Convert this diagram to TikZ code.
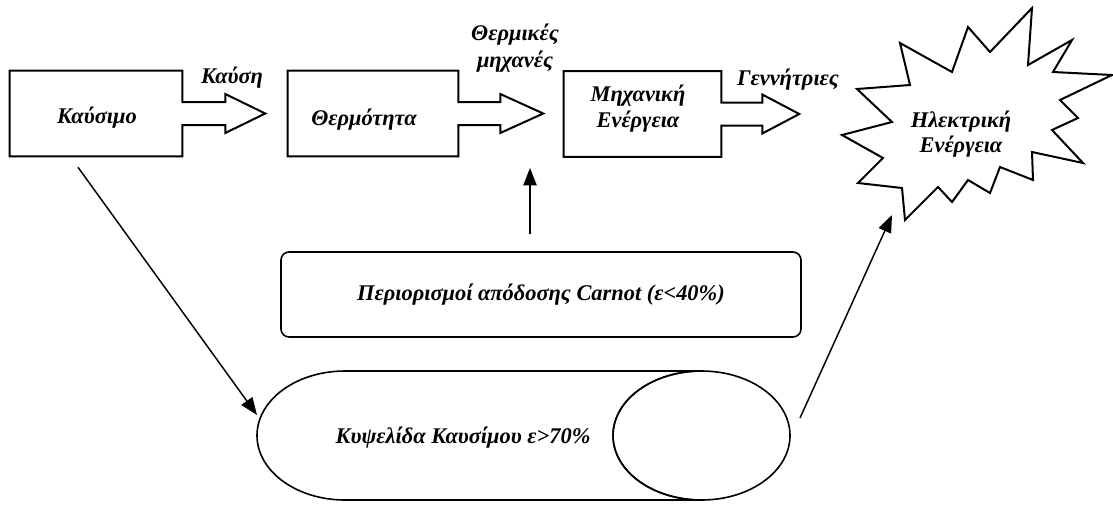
\documentclass[tikz,border=0pt]{standalone}
\usepackage{fontspec}
\setmainfont{Liberation Serif}
\usetikzlibrary{arrows.meta,calc}
\begin{document}
\begin{tikzpicture}[x=0.75pt,y=-0.75pt,
  lbl/.style={font=\fontsize{16.8}{19}\selectfont\bfseries\itshape, inner sep=0pt, align=center},
  outline/.style={draw=black, line width=1.5pt, line join=miter},
  conn/.style={draw=black, line width=1.1pt, -{Triangle[length=13pt,width=10pt]}},
  holder/.style={inner sep=0pt, minimum height=63.75pt}]
\useasboundingbox (0,0) rectangle (1113,508);
\fill[white] (0,0) rectangle (1113,508);

% box holders
\node[holder, minimum width=129pt] (b1) at (96,113.5) {};
\node[holder, minimum width=127.5pt] (b2) at (373,113.5) {};
\node[holder, minimum width=117.75pt] (b3) at (642.5,114) {};

\newcommand\boxarrow[3]{%
  \draw[outline] (#1.north west) -- (#1.north east) -- ($(#1.east)+(0,-11.5)$)
    -- ++(#2,0) -- ++(0,-8) -- ($(#1.east)+(#2+#3,0)$) -- ($(#1.east)+(#2,19.5)$)
    -- ++(0,-8) -- ($(#1.east)+(0,11.5)$) -- (#1.south east) -- (#1.south west) -- cycle;}
\boxarrow{b1}{43}{40}
\boxarrow{b2}{42}{43}
\boxarrow{b3}{41}{37}

% texts in boxes
\node[lbl] (fuel) at (97,118) {Καύσιμο};
\node[lbl] (heat) at (364,120) {Θερμότητα};
\node[lbl] (mech) at (638,108.5) {Μηχανική\\Ενέργεια};

% arrow labels
\node[lbl] (l1) at (232,78) {Καύση};
\node[lbl, font=\fontsize{16.8}{20.5}\selectfont\bfseries\itshape] (l2) at (515,48) {Θερμικές\\μηχανές};
\node[lbl] (l3) at (788,80) {Γεννήτριες};

% starburst
\draw[outline] (857,89) -- (910,85) -- (900,43) -- (952,72) -- (968,27) -- (990,52)
  -- (1032,8) -- (1028,65) -- (1072,40) -- (1053,72) -- (1112,75) -- (1060,100)
  -- (1078,118) -- (1052,130) -- (1083,163) -- (1032,152) -- (1033,180) -- (1000,167)
  -- (990,193) -- (968,180) -- (952,202) -- (938,187) -- (905,220) -- (902,188)
  -- (858,183) -- (883,158) -- (842,135) -- (892,122) -- cycle;
\node[lbl] (elec) at (961,134) {Ηλεκτρική\\Ενέργεια};

% Carnot box
\node[draw=black, line width=1.2pt, rounded corners=6pt, minimum width=390pt,
  minimum height=63.75pt, inner sep=0pt, lbl] (carnot) at (541,294.5)
  {Περιορισμοί απόδοσης Carnot (ε<40\%)};

% fuel cell cylinder
\draw[outline, line width=1.2pt] (345,371) -- (701.5,371)
  arc[start angle=270, end angle=90, x radius=88.5, y radius=64.5]
  -- (345,500) arc[start angle=90, end angle=270, x radius=88, y radius=64.5] -- cycle;
\draw[outline, line width=1.2pt] (701.5,435.5) ellipse[x radius=88.5, y radius=64.5];
\node[lbl] (cell) at (463,438) {Κυψελίδα Καυσίμου ε>70\%};

% connectors
\coordinate (a1s) at ($(b1.south)+(-18,11)$);
\coordinate (a1e) at (257,415);
\draw[conn] (a1s) -- (a1e);
\coordinate (a2s) at (800,418);
\coordinate (a2e) at (892,215);
\draw[conn] (a2s) -- (a2e);
\coordinate (a3s) at ($(carnot.north)+(-11,-17)$);
\coordinate (a3e) at (530,168);
\draw[conn] (a3s) -- (a3e);
\end{tikzpicture}
\end{document}
